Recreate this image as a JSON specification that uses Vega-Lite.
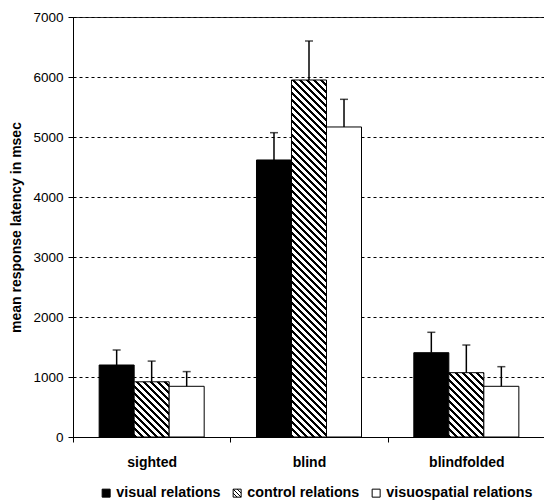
{
  "$schema": "https://vega.github.io/schema/vega-lite/v6.json",
  "width": 472,
  "height": 420,
  "autosize": "none",
  "padding": {"left": 73, "top": 17, "right": 0, "bottom": 66},
  "background": "white",
  "config": {"view": {"stroke": "#333", "strokeWidth": 1}, "font": "Liberation Sans"},
  "data": {"values": [
    {"group": "sighted", "series": "visual relations", "value": 1200, "upper": 1450},
    {"group": "sighted", "series": "control relations", "value": 920, "upper": 1265},
    {"group": "sighted", "series": "visuospatial relations", "value": 845, "upper": 1090},
    {"group": "blind", "series": "visual relations", "value": 4617, "upper": 5072},
    {"group": "blind", "series": "control relations", "value": 5950, "upper": 6600},
    {"group": "blind", "series": "visuospatial relations", "value": 5167, "upper": 5628},
    {"group": "blindfolded", "series": "visual relations", "value": 1405, "upper": 1745},
    {"group": "blindfolded", "series": "control relations", "value": 1072, "upper": 1533},
    {"group": "blindfolded", "series": "visuospatial relations", "value": 845, "upper": 1172}
  ]},
  "encoding": {
    "x": {"field": "group", "type": "nominal", "sort": ["sighted", "blind", "blindfolded"],
      "scale": {"paddingInner": 0, "paddingOuter": 0},
      "axis": {"title": null, "labelAngle": 0, "labelFontWeight": "bold", "labelFontSize": 14, "labelColor": "black",
        "labelPadding": 13, "tickBand": "extent", "tickSize": 5, "tickColor": "black", "domainColor": "black", "grid": false}},
    "xOffset": {"field": "series", "type": "nominal", "sort": ["visual relations", "control relations", "visuospatial relations"],
      "scale": {"paddingInner": 0, "paddingOuter": 0.747}}
  },
  "layer": [
    {
      "mark": {"type": "bar", "stroke": "black", "strokeWidth": 1},
      "encoding": {
        "y": {"field": "value", "type": "quantitative", "title": "mean response latency in msec",
          "scale": {"domain": [0, 7000], "nice": false},
          "axis": {"values": [0, 1000, 2000, 3000, 4000, 5000, 6000, 7000], "format": "d", "labelFontSize": 13.5, "labelColor": "black",
            "tickSize": 5, "tickColor": "black", "domainColor": "black", "labelPadding": 5,
            "grid": true, "gridDash": [3, 3], "gridColor": "black", "gridWidth": 1,
            "titleFontSize": 14, "titleFontWeight": "bold", "titleColor": "black", "titlePadding": 9}},
        "fill": {
          "condition": [
            {"test": "datum.series === 'control relations' && datum.group === 'sighted'",
              "value": {"gradient": "linear", "x1": 0, "y1": 1, "x2": 0.73899, "y2": -0.16549, "stops": [
                {"offset": 0, "color": "#fff"}, {"offset": 0, "color": "#000"}, {"offset": 0.0333, "color": "#000"}, {"offset": 0.0333, "color": "#fff"},
                {"offset": 0.0776, "color": "#fff"}, {"offset": 0.0776, "color": "#000"}, {"offset": 0.1109, "color": "#000"}, {"offset": 0.1109, "color": "#fff"},
                {"offset": 0.1552, "color": "#fff"}, {"offset": 0.1552, "color": "#000"}, {"offset": 0.1885, "color": "#000"}, {"offset": 0.1885, "color": "#fff"},
                {"offset": 0.2328, "color": "#fff"}, {"offset": 0.2328, "color": "#000"}, {"offset": 0.2661, "color": "#000"}, {"offset": 0.2661, "color": "#fff"},
                {"offset": 0.3104, "color": "#fff"}, {"offset": 0.3104, "color": "#000"}, {"offset": 0.3437, "color": "#000"}, {"offset": 0.3437, "color": "#fff"},
                {"offset": 0.3880, "color": "#fff"}, {"offset": 0.3880, "color": "#000"}, {"offset": 0.4213, "color": "#000"}, {"offset": 0.4213, "color": "#fff"},
                {"offset": 0.4656, "color": "#fff"}, {"offset": 0.4656, "color": "#000"}, {"offset": 0.4989, "color": "#000"}, {"offset": 0.4989, "color": "#fff"},
                {"offset": 0.5432, "color": "#fff"}, {"offset": 0.5432, "color": "#000"}, {"offset": 0.5765, "color": "#000"}, {"offset": 0.5765, "color": "#fff"},
                {"offset": 0.6208, "color": "#fff"}, {"offset": 0.6208, "color": "#000"}, {"offset": 0.6541, "color": "#000"}, {"offset": 0.6541, "color": "#fff"},
                {"offset": 0.6984, "color": "#fff"}, {"offset": 0.6984, "color": "#000"}, {"offset": 0.7317, "color": "#000"}, {"offset": 0.7317, "color": "#fff"},
                {"offset": 0.7761, "color": "#fff"}, {"offset": 0.7761, "color": "#000"}, {"offset": 0.8093, "color": "#000"}, {"offset": 0.8093, "color": "#fff"},
                {"offset": 0.8537, "color": "#fff"}, {"offset": 0.8537, "color": "#000"}, {"offset": 0.8869, "color": "#000"}, {"offset": 0.8869, "color": "#fff"},
                {"offset": 0.9313, "color": "#fff"}, {"offset": 0.9313, "color": "#000"}, {"offset": 0.9645, "color": "#000"}, {"offset": 0.9645, "color": "#fff"},
                {"offset": 1, "color": "#fff"}
              ]}},
            {"test": "datum.series === 'control relations' && datum.group === 'blindfolded'",
              "value": {"gradient": "linear", "x1": 0, "y1": 1, "x2": 0.6483, "y2": -0.1914, "stops": [
                {"offset": 0, "color": "#fff"}, {"offset": 0, "color": "#000"}, {"offset": 0.0302, "color": "#000"}, {"offset": 0.0302, "color": "#fff"},
                {"offset": 0.0705, "color": "#fff"}, {"offset": 0.0705, "color": "#000"}, {"offset": 0.1007, "color": "#000"}, {"offset": 0.1007, "color": "#fff"},
                {"offset": 0.1410, "color": "#fff"}, {"offset": 0.1410, "color": "#000"}, {"offset": 0.1712, "color": "#000"}, {"offset": 0.1712, "color": "#fff"},
                {"offset": 0.2114, "color": "#fff"}, {"offset": 0.2114, "color": "#000"}, {"offset": 0.2416, "color": "#000"}, {"offset": 0.2416, "color": "#fff"},
                {"offset": 0.2819, "color": "#fff"}, {"offset": 0.2819, "color": "#000"}, {"offset": 0.3121, "color": "#000"}, {"offset": 0.3121, "color": "#fff"},
                {"offset": 0.3524, "color": "#fff"}, {"offset": 0.3524, "color": "#000"}, {"offset": 0.3826, "color": "#000"}, {"offset": 0.3826, "color": "#fff"},
                {"offset": 0.4229, "color": "#fff"}, {"offset": 0.4229, "color": "#000"}, {"offset": 0.4531, "color": "#000"}, {"offset": 0.4531, "color": "#fff"},
                {"offset": 0.4934, "color": "#fff"}, {"offset": 0.4934, "color": "#000"}, {"offset": 0.5236, "color": "#000"}, {"offset": 0.5236, "color": "#fff"},
                {"offset": 0.5638, "color": "#fff"}, {"offset": 0.5638, "color": "#000"}, {"offset": 0.5940, "color": "#000"}, {"offset": 0.5940, "color": "#fff"},
                {"offset": 0.6343, "color": "#fff"}, {"offset": 0.6343, "color": "#000"}, {"offset": 0.6645, "color": "#000"}, {"offset": 0.6645, "color": "#fff"},
                {"offset": 0.7048, "color": "#fff"}, {"offset": 0.7048, "color": "#000"}, {"offset": 0.7350, "color": "#000"}, {"offset": 0.7350, "color": "#fff"},
                {"offset": 0.7753, "color": "#fff"}, {"offset": 0.7753, "color": "#000"}, {"offset": 0.8055, "color": "#000"}, {"offset": 0.8055, "color": "#fff"},
                {"offset": 0.8457, "color": "#fff"}, {"offset": 0.8457, "color": "#000"}, {"offset": 0.8759, "color": "#000"}, {"offset": 0.8759, "color": "#fff"},
                {"offset": 0.9162, "color": "#fff"}, {"offset": 0.9162, "color": "#000"}, {"offset": 0.9464, "color": "#000"}, {"offset": 0.9464, "color": "#fff"},
                {"offset": 0.9867, "color": "#fff"}, {"offset": 0.9867, "color": "#000"}, {"offset": 1, "color": "#000"}
              ]}},
            {"test": "datum.series === 'control relations' && datum.group === 'blind'",
              "value": {"gradient": "linear", "x1": 0, "y1": 1, "x2": 0.10663, "y2": -0.08759, "stops": [
                {"offset": 0, "color": "#fff"}, {"offset": 0, "color": "#000"}, {"offset": 0.0077, "color": "#000"}, {"offset": 0.0077, "color": "#fff"},
                {"offset": 0.0179, "color": "#fff"}, {"offset": 0.0179, "color": "#000"}, {"offset": 0.0255, "color": "#000"}, {"offset": 0.0255, "color": "#fff"},
                {"offset": 0.0357, "color": "#fff"}, {"offset": 0.0357, "color": "#000"}, {"offset": 0.0434, "color": "#000"}, {"offset": 0.0434, "color": "#fff"},
                {"offset": 0.0536, "color": "#fff"}, {"offset": 0.0536, "color": "#000"}, {"offset": 0.0612, "color": "#000"}, {"offset": 0.0612, "color": "#fff"},
                {"offset": 0.0714, "color": "#fff"}, {"offset": 0.0714, "color": "#000"}, {"offset": 0.0791, "color": "#000"}, {"offset": 0.0791, "color": "#fff"},
                {"offset": 0.0893, "color": "#fff"}, {"offset": 0.0893, "color": "#000"}, {"offset": 0.0969, "color": "#000"}, {"offset": 0.0969, "color": "#fff"},
                {"offset": 0.1071, "color": "#fff"}, {"offset": 0.1071, "color": "#000"}, {"offset": 0.1148, "color": "#000"}, {"offset": 0.1148, "color": "#fff"},
                {"offset": 0.1250, "color": "#fff"}, {"offset": 0.1250, "color": "#000"}, {"offset": 0.1327, "color": "#000"}, {"offset": 0.1327, "color": "#fff"},
                {"offset": 0.1429, "color": "#fff"}, {"offset": 0.1429, "color": "#000"}, {"offset": 0.1505, "color": "#000"}, {"offset": 0.1505, "color": "#fff"},
                {"offset": 0.1607, "color": "#fff"}, {"offset": 0.1607, "color": "#000"}, {"offset": 0.1684, "color": "#000"}, {"offset": 0.1684, "color": "#fff"},
                {"offset": 0.1786, "color": "#fff"}, {"offset": 0.1786, "color": "#000"}, {"offset": 0.1862, "color": "#000"}, {"offset": 0.1862, "color": "#fff"},
                {"offset": 0.1964, "color": "#fff"}, {"offset": 0.1964, "color": "#000"}, {"offset": 0.2041, "color": "#000"}, {"offset": 0.2041, "color": "#fff"},
                {"offset": 0.2143, "color": "#fff"}, {"offset": 0.2143, "color": "#000"}, {"offset": 0.2219, "color": "#000"}, {"offset": 0.2219, "color": "#fff"},
                {"offset": 0.2321, "color": "#fff"}, {"offset": 0.2321, "color": "#000"}, {"offset": 0.2398, "color": "#000"}, {"offset": 0.2398, "color": "#fff"},
                {"offset": 0.2500, "color": "#fff"}, {"offset": 0.2500, "color": "#000"}, {"offset": 0.2577, "color": "#000"}, {"offset": 0.2577, "color": "#fff"},
                {"offset": 0.2679, "color": "#fff"}, {"offset": 0.2679, "color": "#000"}, {"offset": 0.2755, "color": "#000"}, {"offset": 0.2755, "color": "#fff"},
                {"offset": 0.2857, "color": "#fff"}, {"offset": 0.2857, "color": "#000"}, {"offset": 0.2934, "color": "#000"}, {"offset": 0.2934, "color": "#fff"},
                {"offset": 0.3036, "color": "#fff"}, {"offset": 0.3036, "color": "#000"}, {"offset": 0.3112, "color": "#000"}, {"offset": 0.3112, "color": "#fff"},
                {"offset": 0.3214, "color": "#fff"}, {"offset": 0.3214, "color": "#000"}, {"offset": 0.3291, "color": "#000"}, {"offset": 0.3291, "color": "#fff"},
                {"offset": 0.3393, "color": "#fff"}, {"offset": 0.3393, "color": "#000"}, {"offset": 0.3469, "color": "#000"}, {"offset": 0.3469, "color": "#fff"},
                {"offset": 0.3571, "color": "#fff"}, {"offset": 0.3571, "color": "#000"}, {"offset": 0.3648, "color": "#000"}, {"offset": 0.3648, "color": "#fff"},
                {"offset": 0.3750, "color": "#fff"}, {"offset": 0.3750, "color": "#000"}, {"offset": 0.3827, "color": "#000"}, {"offset": 0.3827, "color": "#fff"},
                {"offset": 0.3929, "color": "#fff"}, {"offset": 0.3929, "color": "#000"}, {"offset": 0.4005, "color": "#000"}, {"offset": 0.4005, "color": "#fff"},
                {"offset": 0.4107, "color": "#fff"}, {"offset": 0.4107, "color": "#000"}, {"offset": 0.4184, "color": "#000"}, {"offset": 0.4184, "color": "#fff"},
                {"offset": 0.4286, "color": "#fff"}, {"offset": 0.4286, "color": "#000"}, {"offset": 0.4362, "color": "#000"}, {"offset": 0.4362, "color": "#fff"},
                {"offset": 0.4464, "color": "#fff"}, {"offset": 0.4464, "color": "#000"}, {"offset": 0.4541, "color": "#000"}, {"offset": 0.4541, "color": "#fff"},
                {"offset": 0.4643, "color": "#fff"}, {"offset": 0.4643, "color": "#000"}, {"offset": 0.4719, "color": "#000"}, {"offset": 0.4719, "color": "#fff"},
                {"offset": 0.4821, "color": "#fff"}, {"offset": 0.4821, "color": "#000"}, {"offset": 0.4898, "color": "#000"}, {"offset": 0.4898, "color": "#fff"},
                {"offset": 0.5000, "color": "#fff"}, {"offset": 0.5000, "color": "#000"}, {"offset": 0.5077, "color": "#000"}, {"offset": 0.5077, "color": "#fff"},
                {"offset": 0.5179, "color": "#fff"}, {"offset": 0.5179, "color": "#000"}, {"offset": 0.5255, "color": "#000"}, {"offset": 0.5255, "color": "#fff"},
                {"offset": 0.5357, "color": "#fff"}, {"offset": 0.5357, "color": "#000"}, {"offset": 0.5434, "color": "#000"}, {"offset": 0.5434, "color": "#fff"},
                {"offset": 0.5536, "color": "#fff"}, {"offset": 0.5536, "color": "#000"}, {"offset": 0.5612, "color": "#000"}, {"offset": 0.5612, "color": "#fff"},
                {"offset": 0.5714, "color": "#fff"}, {"offset": 0.5714, "color": "#000"}, {"offset": 0.5791, "color": "#000"}, {"offset": 0.5791, "color": "#fff"},
                {"offset": 0.5893, "color": "#fff"}, {"offset": 0.5893, "color": "#000"}, {"offset": 0.5969, "color": "#000"}, {"offset": 0.5969, "color": "#fff"},
                {"offset": 0.6071, "color": "#fff"}, {"offset": 0.6071, "color": "#000"}, {"offset": 0.6148, "color": "#000"}, {"offset": 0.6148, "color": "#fff"},
                {"offset": 0.6250, "color": "#fff"}, {"offset": 0.6250, "color": "#000"}, {"offset": 0.6327, "color": "#000"}, {"offset": 0.6327, "color": "#fff"},
                {"offset": 0.6429, "color": "#fff"}, {"offset": 0.6429, "color": "#000"}, {"offset": 0.6505, "color": "#000"}, {"offset": 0.6505, "color": "#fff"},
                {"offset": 0.6607, "color": "#fff"}, {"offset": 0.6607, "color": "#000"}, {"offset": 0.6684, "color": "#000"}, {"offset": 0.6684, "color": "#fff"},
                {"offset": 0.6786, "color": "#fff"}, {"offset": 0.6786, "color": "#000"}, {"offset": 0.6862, "color": "#000"}, {"offset": 0.6862, "color": "#fff"},
                {"offset": 0.6964, "color": "#fff"}, {"offset": 0.6964, "color": "#000"}, {"offset": 0.7041, "color": "#000"}, {"offset": 0.7041, "color": "#fff"},
                {"offset": 0.7143, "color": "#fff"}, {"offset": 0.7143, "color": "#000"}, {"offset": 0.7219, "color": "#000"}, {"offset": 0.7219, "color": "#fff"},
                {"offset": 0.7321, "color": "#fff"}, {"offset": 0.7321, "color": "#000"}, {"offset": 0.7398, "color": "#000"}, {"offset": 0.7398, "color": "#fff"},
                {"offset": 0.7500, "color": "#fff"}, {"offset": 0.7500, "color": "#000"}, {"offset": 0.7577, "color": "#000"}, {"offset": 0.7577, "color": "#fff"},
                {"offset": 0.7679, "color": "#fff"}, {"offset": 0.7679, "color": "#000"}, {"offset": 0.7755, "color": "#000"}, {"offset": 0.7755, "color": "#fff"},
                {"offset": 0.7857, "color": "#fff"}, {"offset": 0.7857, "color": "#000"}, {"offset": 0.7934, "color": "#000"}, {"offset": 0.7934, "color": "#fff"},
                {"offset": 0.8036, "color": "#fff"}, {"offset": 0.8036, "color": "#000"}, {"offset": 0.8112, "color": "#000"}, {"offset": 0.8112, "color": "#fff"},
                {"offset": 0.8214, "color": "#fff"}, {"offset": 0.8214, "color": "#000"}, {"offset": 0.8291, "color": "#000"}, {"offset": 0.8291, "color": "#fff"},
                {"offset": 0.8393, "color": "#fff"}, {"offset": 0.8393, "color": "#000"}, {"offset": 0.8469, "color": "#000"}, {"offset": 0.8469, "color": "#fff"},
                {"offset": 0.8571, "color": "#fff"}, {"offset": 0.8571, "color": "#000"}, {"offset": 0.8648, "color": "#000"}, {"offset": 0.8648, "color": "#fff"},
                {"offset": 0.8750, "color": "#fff"}, {"offset": 0.8750, "color": "#000"}, {"offset": 0.8827, "color": "#000"}, {"offset": 0.8827, "color": "#fff"},
                {"offset": 0.8929, "color": "#fff"}, {"offset": 0.8929, "color": "#000"}, {"offset": 0.9005, "color": "#000"}, {"offset": 0.9005, "color": "#fff"},
                {"offset": 0.9107, "color": "#fff"}, {"offset": 0.9107, "color": "#000"}, {"offset": 0.9184, "color": "#000"}, {"offset": 0.9184, "color": "#fff"},
                {"offset": 0.9286, "color": "#fff"}, {"offset": 0.9286, "color": "#000"}, {"offset": 0.9362, "color": "#000"}, {"offset": 0.9362, "color": "#fff"},
                {"offset": 0.9464, "color": "#fff"}, {"offset": 0.9464, "color": "#000"}, {"offset": 0.9541, "color": "#000"}, {"offset": 0.9541, "color": "#fff"},
                {"offset": 0.9643, "color": "#fff"}, {"offset": 0.9643, "color": "#000"}, {"offset": 0.9719, "color": "#000"}, {"offset": 0.9719, "color": "#fff"},
                {"offset": 0.9821, "color": "#fff"}, {"offset": 0.9821, "color": "#000"}, {"offset": 0.9898, "color": "#000"}, {"offset": 0.9898, "color": "#fff"},
                {"offset": 1, "color": "#fff"}
              ]}}
          ],
          "field": "series", "type": "nominal",
          "scale": {"domain": ["visual relations", "control relations", "visuospatial relations"],
            "range": ["black", "white", "white"]},
          "legend": {"orient": "none", "legendX": 26, "legendY": 469, "direction": "horizontal", "title": null,
            "gridAlign": "none",
            "labelFontWeight": "bold", "labelFontSize": 14.3, "labelColor": "black", "symbolType": "square", "symbolSize": 64,
            "symbolStrokeColor": "black", "symbolStrokeWidth": 1, "labelOffset": 3, "columnPadding": 9,
            "encode": {"symbols": {"update": {
              "shape": {"signal": "datum.value === 'control relations' ? 'M-1,-1H1V1H-1Z M-1,-1L1,1 M-1,0L0,1 M0,-1L1,0' : 'square'"},
              "stroke": {"value": "black"},
              "strokeWidth": {"value": 1}
            }}}}
        }
      }
    },
    {
      "mark": {"type": "rule", "strokeWidth": 1.5, "color": "black"},
      "encoding": {
        "y": {"field": "value", "type": "quantitative", "title": "mean response latency in msec"},
        "y2": {"field": "upper"}
      }
    },
    {
      "mark": {"type": "tick", "size": 8, "thickness": 1.5, "color": "black"},
      "encoding": {
        "y": {"field": "upper", "type": "quantitative", "title": "mean response latency in msec"}
      }
    }
  ]
}
